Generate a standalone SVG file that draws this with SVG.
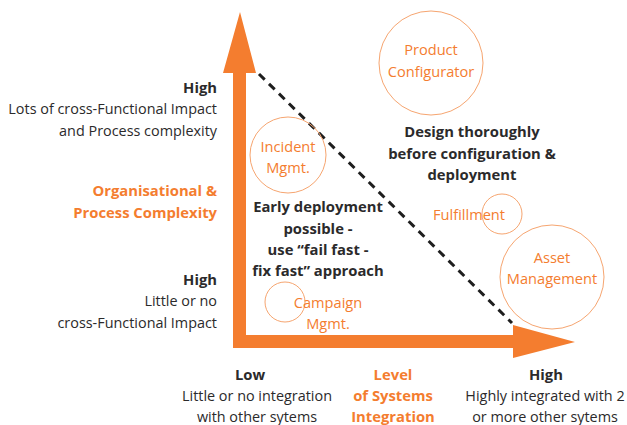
<svg xmlns="http://www.w3.org/2000/svg" width="627" height="425" viewBox="0 0 627 425">
  <style>
    text { font-family: "Open Sans", "Noto Sans", "Liberation Sans", sans-serif; }
    .dark { fill: #2b2a2b; font-size: 14.4px; }
    .darkb { fill: #2b2a2b; font-size: 14.8px; font-weight: bold; }
    .orb { fill: #f47d2f; font-size: 14.8px; font-weight: bold; }
    .orl { fill: #f47d2f; font-size: 14.6px; }
    .ring { fill: none; stroke: #f6a570; stroke-width: 1; }
    .axis { fill: #f47d2f; }
    .r { text-anchor: end; }
    .c { text-anchor: middle; }
  </style>

  <!-- axes and divider -->
  <g id="connectors">
    <polygon class="axis" points="233,348 233,73 223,73 240,12 256,73 246,73 246,335 513,335 513,325 575,342 513,358 513,348"/>
    <line x1="259" y1="74" x2="512" y2="323" stroke="#1e1e1e" stroke-width="3" stroke-dasharray="8,6"/>
  </g>

  <!-- vertical axis labels -->
  <g id="y-high-top">
    <text class="darkb r" x="217" y="93">High</text>
    <text class="dark r" x="217" y="114">Lots of cross-Functional Impact</text>
    <text class="dark r" x="217" y="136">and Process complexity</text>
  </g>
  <g id="y-title">
    <text class="orb r" x="217" y="196">Organisational &amp;</text>
    <text class="orb r" x="217" y="218">Process Complexity</text>
  </g>
  <g id="y-high-bottom">
    <text class="darkb r" x="217" y="285">High</text>
    <text class="dark r" x="217" y="306">Little or no</text>
    <text class="dark r" x="217" y="328">cross-Functional Impact</text>
  </g>

  <!-- horizontal axis labels -->
  <g id="x-low">
    <text class="darkb c" x="250" y="380">Low</text>
    <text class="dark c" x="257" y="401">Little or no integration</text>
    <text class="dark c" x="257" y="422">with other sytems</text>
  </g>
  <g id="x-title">
    <text class="orb c" x="393" y="380">Level</text>
    <text class="orb c" x="393" y="401">of Systems</text>
    <text class="orb c" x="393" y="422">Integration</text>
  </g>
  <g id="x-high">
    <text class="darkb c" x="546" y="380">High</text>
    <text class="dark c" x="545" y="401">Highly integrated with 2</text>
    <text class="dark c" x="545" y="422">or more other sytems</text>
  </g>

  <!-- zone captions -->
  <g id="zone-design">
    <text class="darkb c" x="472" y="137">Design thoroughly</text>
    <text class="darkb c" x="472" y="159">before configuration &amp;</text>
    <text class="darkb c" x="472" y="180">deployment</text>
  </g>
  <g id="zone-early">
    <text class="darkb c" x="318" y="212">Early deployment</text>
    <text class="darkb c" x="318" y="234">possible -</text>
    <text class="darkb c" x="318" y="255">use “fail fast -</text>
    <text class="darkb c" x="318" y="276">fix fast” approach</text>
  </g>

  <!-- capability bubbles -->
  <g id="product-configurator">
    <circle class="ring" cx="431" cy="63" r="52"/>
    <text class="orl c" x="431" y="55">Product</text>
    <text class="orl c" x="431" y="77">Configurator</text>
  </g>
  <g id="incident-mgmt">
    <circle class="ring" cx="288" cy="155" r="38"/>
    <text class="orl c" x="288" y="152">Incident</text>
    <text class="orl c" x="288" y="173">Mgmt.</text>
  </g>
  <g id="campaign-mgmt">
    <circle class="ring" cx="285" cy="302" r="20"/>
    <text class="orl c" x="328" y="308">Campaign</text>
    <text class="orl c" x="328" y="329">Mgmt.</text>
  </g>
  <g id="fulfillment">
    <circle class="ring" cx="502" cy="214" r="20"/>
    <text class="orl c" x="469" y="220">Fulfillment</text>
  </g>
  <g id="asset-management">
    <circle class="ring" cx="552" cy="277" r="52"/>
    <text class="orl c" x="552" y="263">Asset</text>
    <text class="orl c" x="552" y="284">Management</text>
  </g>
</svg>
